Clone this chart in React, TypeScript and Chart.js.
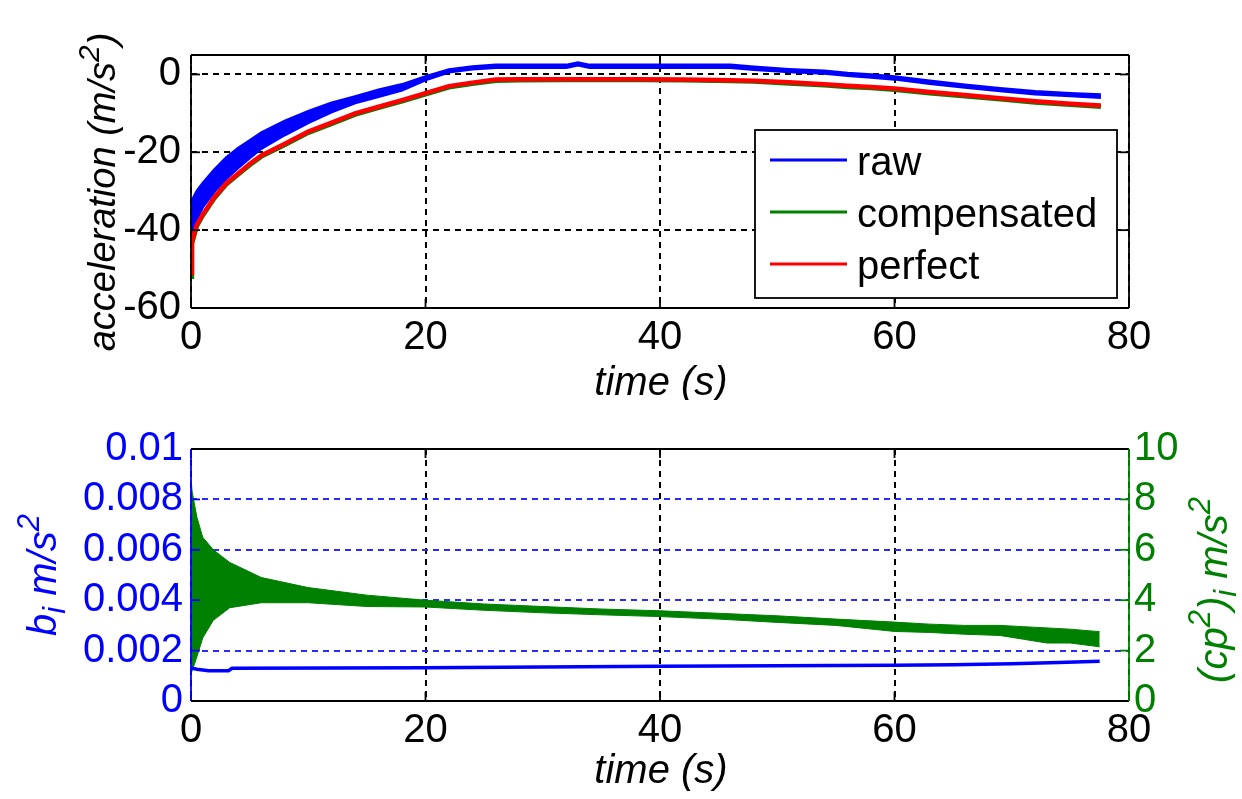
import React, { useEffect, useRef } from "react";
import { Chart, registerables } from "chart.js";
Chart.register(...registerables);

const FONT = "'Liberation Sans', Arial, Helvetica, sans-serif";
const BLUE = "#0000ff";
const GREEN = "#008000";
const RED = "#ff0000";
const GRID_BLUE = "#2a2aff";

// ---------- top chart data ----------
const TIME_A = [0, 0.08, 0.5, 1, 2, 3, 4, 5, 6, 8, 10, 12, 14, 16, 18, 20, 22, 24, 26, 28, 32, 33, 34, 38, 42, 46, 48, 51, 54, 56, 58, 60, 63, 66, 69, 72, 75, 77.6];
const RAW_HI = [-33, -32.5, -30, -28, -24.5, -21.4, -19, -17, -15, -12, -9.5, -7.3, -5.7, -4, -2.6, -0.6, 1.2, 2.0, 2.4, 2.4, 2.4, 3.0, 2.4, 2.4, 2.4, 2.4, 1.9, 1.3, 0.9, 0.3, -0.1, -0.6, -1.7, -2.7, -3.6, -4.4, -4.9, -5.2];
const RAW_LO = [-41, -40.5, -37, -34, -30, -26.8, -24, -21.4, -19, -15.5, -12.4, -9.6, -7.3, -5.7, -4, -1.4, 0.6, 1.4, 1.8, 1.8, 1.8, 2.4, 1.8, 1.8, 1.8, 1.8, 1.3, 0.7, 0.3, -0.3, -0.7, -1.2, -2.3, -3.3, -4.2, -5.0, -5.5, -5.9];
const PERFECT = [-51, -43, -38.6, -36, -31.5, -28, -25.5, -23, -20.8, -17.8, -14.7, -12.4, -10, -8.3, -6.6, -4.8, -3.0, -2.1, -1.3, -1.2, -1.2, -1.2, -1.2, -1.2, -1.3, -1.5, -1.6, -2.0, -2.5, -2.9, -3.2, -3.6, -4.5, -5.3, -6.1, -6.9, -7.5, -8.0];
const COMPENSATED = [-52, -43.5, -39, -36.3, -31.8, -28.3, -25.8, -23.3, -21.1, -18.1, -15, -12.7, -10.3, -8.6, -6.9, -5.1, -3.3, -2.4, -1.6, -1.5, -1.4, -1.4, -1.4, -1.4, -1.5, -1.7, -1.8, -2.3, -2.8, -3.2, -3.5, -3.9, -4.8, -5.6, -6.4, -7.2, -7.8, -8.3];
const X_TICKS = [0, 20, 40, 60, 80];
const A_Y_TICKS = [-60, -40, -20, 0];
const LEGEND_LABELS = ["raw", "compensated", "perfect"];

// ---------- bottom chart data ----------
const TIME_B = [0, 0.1, 0.5, 1, 1.9, 3.3, 6, 10, 15, 20, 25, 30, 35, 40, 45, 50, 55, 60, 63, 66, 69, 71, 73, 75, 77.5];
const CP_HI = [8.8, 8.3, 7.3, 6.5, 6.0, 5.5, 4.9, 4.5, 4.2, 4.0, 3.85, 3.75, 3.65, 3.58, 3.48, 3.38, 3.25, 3.13, 3.05, 3.0, 3.0, 2.95, 2.9, 2.85, 2.75];
const CP_LO = [1.1, 1.2, 1.75, 2.5, 3.2, 3.7, 3.9, 3.9, 3.75, 3.73, 3.6, 3.5, 3.42, 3.35, 3.25, 3.12, 3.0, 2.76, 2.72, 2.65, 2.6, 2.45, 2.3, 2.3, 2.15];
const TIME_BI = [0, 0.5, 1.5, 3.2, 3.5, 20, 40, 60, 65, 70, 74, 77.5];
const BI = [0.00131, 0.00126, 0.0012, 0.0012, 0.0013, 0.00132, 0.00138, 0.00142, 0.00144, 0.00148, 0.00153, 0.00158];
const B_LEFT_TICKS = [0, 0.002, 0.004, 0.006, 0.008, 0.01];
const B_LEFT_LABELS = ["0", "0.002", "0.004", "0.006", "0.008", "0.01"];
const B_RIGHT_TICKS = [0, 2, 4, 6, 8, 10];

type Seg = { t: string; mode?: "sup" | "sub" };

function drawRich(ctx: CanvasRenderingContext2D, segs: Seg[], x: number, y: number, rot: number, size: number, color: string) {
  ctx.save();
  ctx.translate(x, y);
  ctx.rotate(rot);
  ctx.fillStyle = color;
  ctx.textBaseline = "alphabetic";
  ctx.textAlign = "left";
  const fontFor = (s: Seg) => `italic ${s.mode ? Math.round(size * 0.78) : size}px ${FONT}`;
  let total = 0;
  for (const s of segs) {
    ctx.font = fontFor(s);
    total += ctx.measureText(s.t).width;
  }
  let cx = -total / 2;
  for (const s of segs) {
    ctx.font = fontFor(s);
    const dy = s.mode === "sup" ? -size * 0.42 : s.mode === "sub" ? size * 0.22 : 0;
    ctx.fillText(s.t, cx, dy);
    cx += ctx.measureText(s.t).width;
  }
  ctx.restore();
}

function xAxis(height: number) {
  return {
    type: "linear" as const,
    min: 0,
    max: 80,
    afterBuildTicks: (axis: any) => {
      axis.ticks = X_TICKS.map((v) => ({ value: v }));
    },
    afterFit: (scale: any) => {
      scale.height = height;
    },
    ticks: { font: { family: FONT, size: 40 }, color: "#000", padding: 6, maxRotation: 0, autoSkip: false },
    grid: { color: "#000", lineWidth: 2, drawTicks: false },
    border: { display: false, dash: [6, 5] },
  };
}

function framePlugin(cfg: {
  colors: { left: string; right: string; top: string; bottom: string };
  yTicks: { axis: string; values: number[]; color: string; side: "left" | "right" }[];
  draw: (ctx: CanvasRenderingContext2D, chart: any) => void;
}) {
  return {
    id: "frame",
    afterDraw(chart: any) {
      const ctx = chart.ctx as CanvasRenderingContext2D;
      const { left, right, top, bottom } = chart.chartArea;
      ctx.save();
      ctx.lineWidth = 1.8;
      ctx.setLineDash([]);
      const line = (x1: number, y1: number, x2: number, y2: number, c: string) => {
        ctx.strokeStyle = c;
        ctx.beginPath();
        ctx.moveTo(x1, y1);
        ctx.lineTo(x2, y2);
        ctx.stroke();
      };
      const TL = 9;
      const xs = chart.scales.x;
      for (const v of X_TICKS) {
        const px = xs.getPixelForValue(v);
        line(px, bottom, px, bottom - TL, cfg.colors.bottom);
        line(px, top, px, top + TL, cfg.colors.top);
      }
      for (const t of cfg.yTicks) {
        const sc = chart.scales[t.axis];
        for (const v of t.values) {
          const py = sc.getPixelForValue(v);
          if (t.side === "left") line(left, py, left + TL, py, t.color);
          else line(right, py, right - TL, py, t.color);
        }
      }
      line(left, top, right, top, cfg.colors.top);
      line(left, bottom, right, bottom, cfg.colors.bottom);
      line(left, top, left, bottom, cfg.colors.left);
      line(right, top, right, bottom, cfg.colors.right);
      ctx.restore();
      cfg.draw(ctx, chart);
    },
  };
}

const pts = (xs: number[], ys: number[]) => xs.map((x, i) => ({ x, y: ys[i] }));

export default function App() {
  const topRef = useRef<HTMLCanvasElement>(null);
  const botRef = useRef<HTMLCanvasElement>(null);

  useEffect(() => {
    const topChart = new Chart(topRef.current!, {
      type: "line",
      data: {
        datasets: [
          { label: "perfect", data: pts(TIME_A, PERFECT), borderColor: RED, borderWidth: 4.5, pointRadius: 0, tension: 0, fill: false },
          { label: "compensated", data: pts(TIME_A, COMPENSATED), borderColor: GREEN, borderWidth: 4.5, pointRadius: 0, tension: 0, fill: false },
          { label: "raw", data: pts(TIME_A, RAW_HI), borderColor: BLUE, borderWidth: 3, pointRadius: 0, tension: 0, fill: false },
          { label: "raw-lo", data: pts(TIME_A, RAW_LO), borderColor: BLUE, backgroundColor: BLUE, borderWidth: 3, pointRadius: 0, tension: 0, fill: "-1" },
        ],
      },
      options: {
        responsive: false,
        animation: false,
        events: [],
        layout: { padding: { top: 55, right: 113, left: 0, bottom: 0 } },
        plugins: { legend: { display: false }, tooltip: { enabled: false } },
        scales: {
          x: xAxis(92),
          y: {
            type: "linear",
            min: -60,
            max: 5,
            afterBuildTicks: (axis: any) => {
              axis.ticks = A_Y_TICKS.map((v) => ({ value: v }));
            },
            afterFit: (scale: any) => {
              scale.width = 191;
            },
            ticks: { font: { family: FONT, size: 40 }, color: "#000", padding: 10, autoSkip: false },
            grid: { color: "#000", lineWidth: 2, drawTicks: false },
            border: { display: false, dash: [6, 5] },
          },
        },
      },
      plugins: [
        framePlugin({
          colors: { left: "#000", right: "#000", top: "#000", bottom: "#000" },
          yTicks: [
            { axis: "y", values: A_Y_TICKS, color: "#000", side: "left" },
            { axis: "y", values: A_Y_TICKS, color: "#000", side: "right" },
          ],
          draw: (ctx) => {
            drawRich(ctx, [{ t: "acceleration (m/s" }, { t: "2", mode: "sup" }, { t: ")" }], 115, 192, -Math.PI / 2, 38, "#000");
            drawRich(ctx, [{ t: "time (s)" }], 661, 395, 0, 40, "#000");
            // legend
            ctx.save();
            const lx1 = 755, ly1 = 130, lx2 = 1117, ly2 = 298;
            ctx.fillStyle = "#fff";
            ctx.fillRect(lx1, ly1, lx2 - lx1, ly2 - ly1);
            ctx.strokeStyle = "#000";
            ctx.lineWidth = 1.8;
            ctx.strokeRect(lx1, ly1, lx2 - lx1, ly2 - ly1);
            const colors = [BLUE, GREEN, RED];
            const rows = [160, 212, 264];
            ctx.font = `40px ${FONT}`;
            ctx.textBaseline = "alphabetic";
            ctx.textAlign = "left";
            LEGEND_LABELS.forEach((lab, i) => {
              ctx.strokeStyle = colors[i];
              ctx.lineWidth = 3;
              ctx.beginPath();
              ctx.moveTo(770, rows[i]);
              ctx.lineTo(847, rows[i]);
              ctx.stroke();
              ctx.fillStyle = "#000";
              ctx.fillText(lab, 857, rows[i] + 15);
            });
            ctx.restore();
          },
        }),
      ],
    } as any);

    const botChart = new Chart(botRef.current!, {
      type: "line",
      data: {
        datasets: [
          { label: "b", data: pts(TIME_BI, BI), yAxisID: "y", borderColor: BLUE, borderWidth: 3.5, pointRadius: 0, tension: 0, fill: false },
          { label: "cp-lo", data: pts(TIME_B, CP_LO), yAxisID: "y1", borderColor: GREEN, borderWidth: 1, pointRadius: 0, tension: 0, fill: false },
          { label: "cp-hi", data: pts(TIME_B, CP_HI), yAxisID: "y1", borderColor: GREEN, backgroundColor: GREEN, borderWidth: 1, pointRadius: 0, tension: 0, fill: "-1" },
        ],
      },
      options: {
        responsive: false,
        animation: false,
        events: [],
        layout: { padding: { top: 49, right: 0, left: 0, bottom: 0 } },
        plugins: { legend: { display: false }, tooltip: { enabled: false } },
        scales: {
          x: xAxis(98),
          y: {
            type: "linear",
            position: "left",
            min: 0,
            max: 0.01,
            afterBuildTicks: (axis: any) => {
              axis.ticks = B_LEFT_TICKS.map((v) => ({ value: v }));
            },
            afterFit: (scale: any) => {
              scale.width = 191;
            },
            ticks: {
              font: { family: FONT, size: 40 },
              color: BLUE,
              padding: 8,
              autoSkip: false,
              callback: (v: any) => {
                const i = B_LEFT_TICKS.findIndex((t) => Math.abs(t - Number(v)) < 1e-9);
                return i >= 0 ? B_LEFT_LABELS[i] : "";
              },
            },
            grid: { color: GRID_BLUE, lineWidth: 2, drawTicks: false },
            border: { display: false, dash: [6, 5] },
          },
          y1: {
            type: "linear",
            position: "right",
            min: 0,
            max: 10,
            afterBuildTicks: (axis: any) => {
              axis.ticks = B_RIGHT_TICKS.map((v) => ({ value: v }));
            },
            afterFit: (scale: any) => {
              scale.width = 113;
            },
            ticks: { font: { family: FONT, size: 40 }, color: GREEN, padding: 5, autoSkip: false },
            grid: { display: false, drawTicks: false },
            border: { display: false },
          },
        },
      },
      plugins: [
        framePlugin({
          colors: { left: BLUE, right: GREEN, top: "#000", bottom: "#000" },
          yTicks: [
            { axis: "y", values: B_LEFT_TICKS, color: BLUE, side: "left" },
            { axis: "y1", values: B_RIGHT_TICKS, color: GREEN, side: "right" },
          ],
          draw: (ctx) => {
            drawRich(ctx, [{ t: "b" }, { t: "i", mode: "sub" }, { t: " m/s" }, { t: "2", mode: "sup" }], 56, 175, -Math.PI / 2, 40, BLUE);
            drawRich(ctx, [{ t: "(cp" }, { t: "2", mode: "sup" }, { t: ")" }, { t: "i", mode: "sub" }, { t: " m/s" }, { t: "2", mode: "sup" }], 1227, 190, -Math.PI / 2, 40, GREEN);
            drawRich(ctx, [{ t: "time (s)" }], 661, 383, 0, 40, "#000");
          },
        }),
      ],
    } as any);

    return () => {
      topChart.destroy();
      botChart.destroy();
    };
  }, []);

  return (
    <div style={{ position: "fixed", left: 0, top: 0, width: 1242, height: 799, background: "#fff" }}>
      <canvas ref={topRef} width={1242} height={400} style={{ position: "absolute", left: 0, top: 0, width: 1242, height: 400 }} />
      <canvas ref={botRef} width={1242} height={399} style={{ position: "absolute", left: 0, top: 400, width: 1242, height: 399 }} />
    </div>
  );
}
